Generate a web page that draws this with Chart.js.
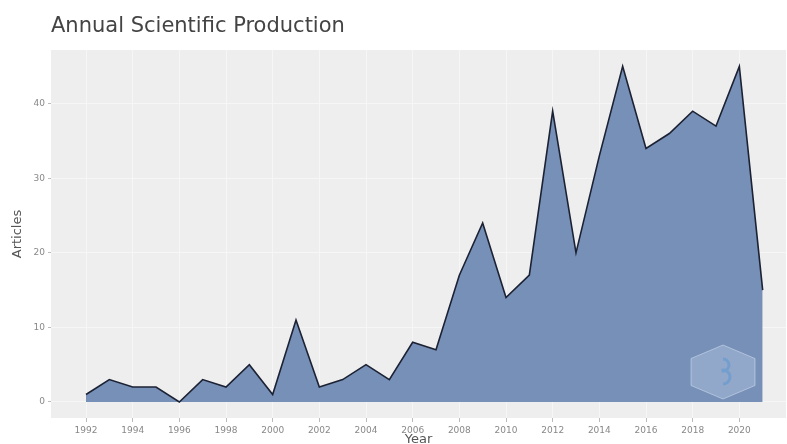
<!DOCTYPE html>
<html>
<head>
<meta charset="utf-8">
<script src="https://cdn.jsdelivr.net/npm/chart.js@4/dist/chart.umd.min.js"></script>
<style>
  html, body { margin: 0; padding: 0; background: #fff; }
  #wrap { position: relative; width: 787px; height: 444px; }
</style>
</head>
<body>
<div id="wrap"><canvas id="prodChart"></canvas></div>
<script>
// Articles per year
const years = [1992, 1993, 1994, 1995, 1996, 1997, 1998, 1999, 2000, 2001,
               2002, 2003, 2004, 2005, 2006, 2007, 2008, 2009, 2010, 2011,
               2012, 2013, 2014, 2015, 2016, 2017, 2018, 2019, 2020, 2021];
const articles = [1, 3, 2, 2, 0, 3, 2, 5, 1, 11,
                  2, 3, 5, 3, 8, 7, 17, 24, 14, 17,
                  39, 20, 33, 45, 34, 36, 39, 37, 45, 15];
const yTicks = [0, 10, 20, 30, 40];
const xTicks = [1992, 1994, 1996, 1998, 2000, 2002, 2004, 2006, 2008, 2010, 2012, 2014, 2016, 2018, 2020];

// grey panel behind the plot
const panelBg = {
    id: 'panelBg',
    beforeDraw(chart) {
        const a = chart.chartArea, ctx = chart.ctx;
        ctx.save();
        ctx.fillStyle = '#eeeeee';
        ctx.fillRect(a.left, a.top, a.right - a.left, a.bottom - a.top);
        ctx.restore();
    }
};

// faint hexagon logo in the corner
const logo = {
    id: 'logo',
    afterDatasetsDraw(chart) {
        const a = chart.chartArea, ctx = chart.ctx;
        const cx = a.right - 63, cy = a.bottom - 46, rx = 32, ry = 27;
        ctx.save();
        ctx.beginPath();
        for (let i = 0; i < 6; i++) {
            const ang = Math.PI / 2 + i * Math.PI / 3;
            const px = cx + rx * Math.cos(ang) / Math.cos(Math.PI / 6);
            const py = cy - ry * Math.sin(ang);
            if (i === 0) ctx.moveTo(px, py); else ctx.lineTo(px, py);
        }
        ctx.closePath();
        ctx.fillStyle = 'rgba(200,215,235,0.35)';
        ctx.fill();
        ctx.strokeStyle = 'rgba(220,230,245,0.5)';
        ctx.lineWidth = 1;
        ctx.stroke();
        ctx.strokeStyle = 'rgba(90,150,210,0.55)';
        ctx.lineWidth = 3;
        ctx.beginPath();
        ctx.arc(cx, cy - 7, 6, -Math.PI / 2, Math.PI / 2);
        ctx.arc(cx, cy + 5, 7, -Math.PI / 2, Math.PI / 2);
        ctx.stroke();
        ctx.restore();
    }
};

const ctx = document.getElementById('prodChart').getContext('2d');
const chart = new Chart(ctx, {
    type: 'line',
    data: {
        datasets: [{
            label: 'Articles',
            data: years.map((y, i) => ({ x: y, y: articles[i] })),
            borderColor: '#1c2233',
            borderWidth: 1.6,
            backgroundColor: '#7690b8',
            fill: 'origin',
            tension: 0,
            pointRadius: 0
        }]
    },
    options: {
        responsive: true,
        maintainAspectRatio: false,
        animation: false,
        layout: { padding: { left: 0, right: 1, top: 0, bottom: 0 } },
        plugins: {
            legend: { display: false },
            tooltip: { enabled: false },
            title: {
                display: true,
                text: 'Annual Scientific Production',
                align: 'start',
                fullSize: false,
                color: '#444',
                font: { family: 'DejaVu Sans', size: 21, weight: 'normal', lineHeight: 1.2 },
                padding: { top: 14, bottom: 10.8 }
            }
        },
        scales: {
            x: {
                type: 'linear',
                min: 1990.5,
                max: 2022,
                afterBuildTicks: s => { s.ticks = xTicks.map(v => ({ value: v })); },
                afterFit: s => { s.height = 26; },
                ticks: {
                    color: '#888',
                    font: { family: 'DejaVu Sans', size: 9 },
                    padding: 3,
                    maxRotation: 0,
                    autoSkip: false,
                    callback: v => String(v)
                },
                grid: { color: '#f6f6f6', lineWidth: 1, tickColor: '#bbb', tickLength: 4 },
                border: { display: false },
                title: {
                    display: true,
                    text: 'Year',
                    color: '#555',
                    font: { family: 'DejaVu Sans', size: 13 },
                    padding: { top: 0, bottom: -3 }
                }
            },
            y: {
                min: -2.15,
                max: 47.2,
                afterBuildTicks: s => { s.ticks = yTicks.map(v => ({ value: v })); },
                afterFit: s => { s.width = 51; },
                ticks: {
                    color: '#888',
                    font: { family: 'DejaVu Sans', size: 9 },
                    padding: 3
                },
                grid: { color: '#f6f6f6', lineWidth: 1, tickColor: '#bbb', tickLength: 3 },
                border: { display: false },
                title: {
                    display: true,
                    text: 'Articles',
                    color: '#555',
                    font: { family: 'DejaVu Sans', size: 13 },
                    padding: { top: 10, bottom: 0 }
                }
            }
        }
    },
    plugins: [panelBg, logo]
});
</script>
</body>
</html>
